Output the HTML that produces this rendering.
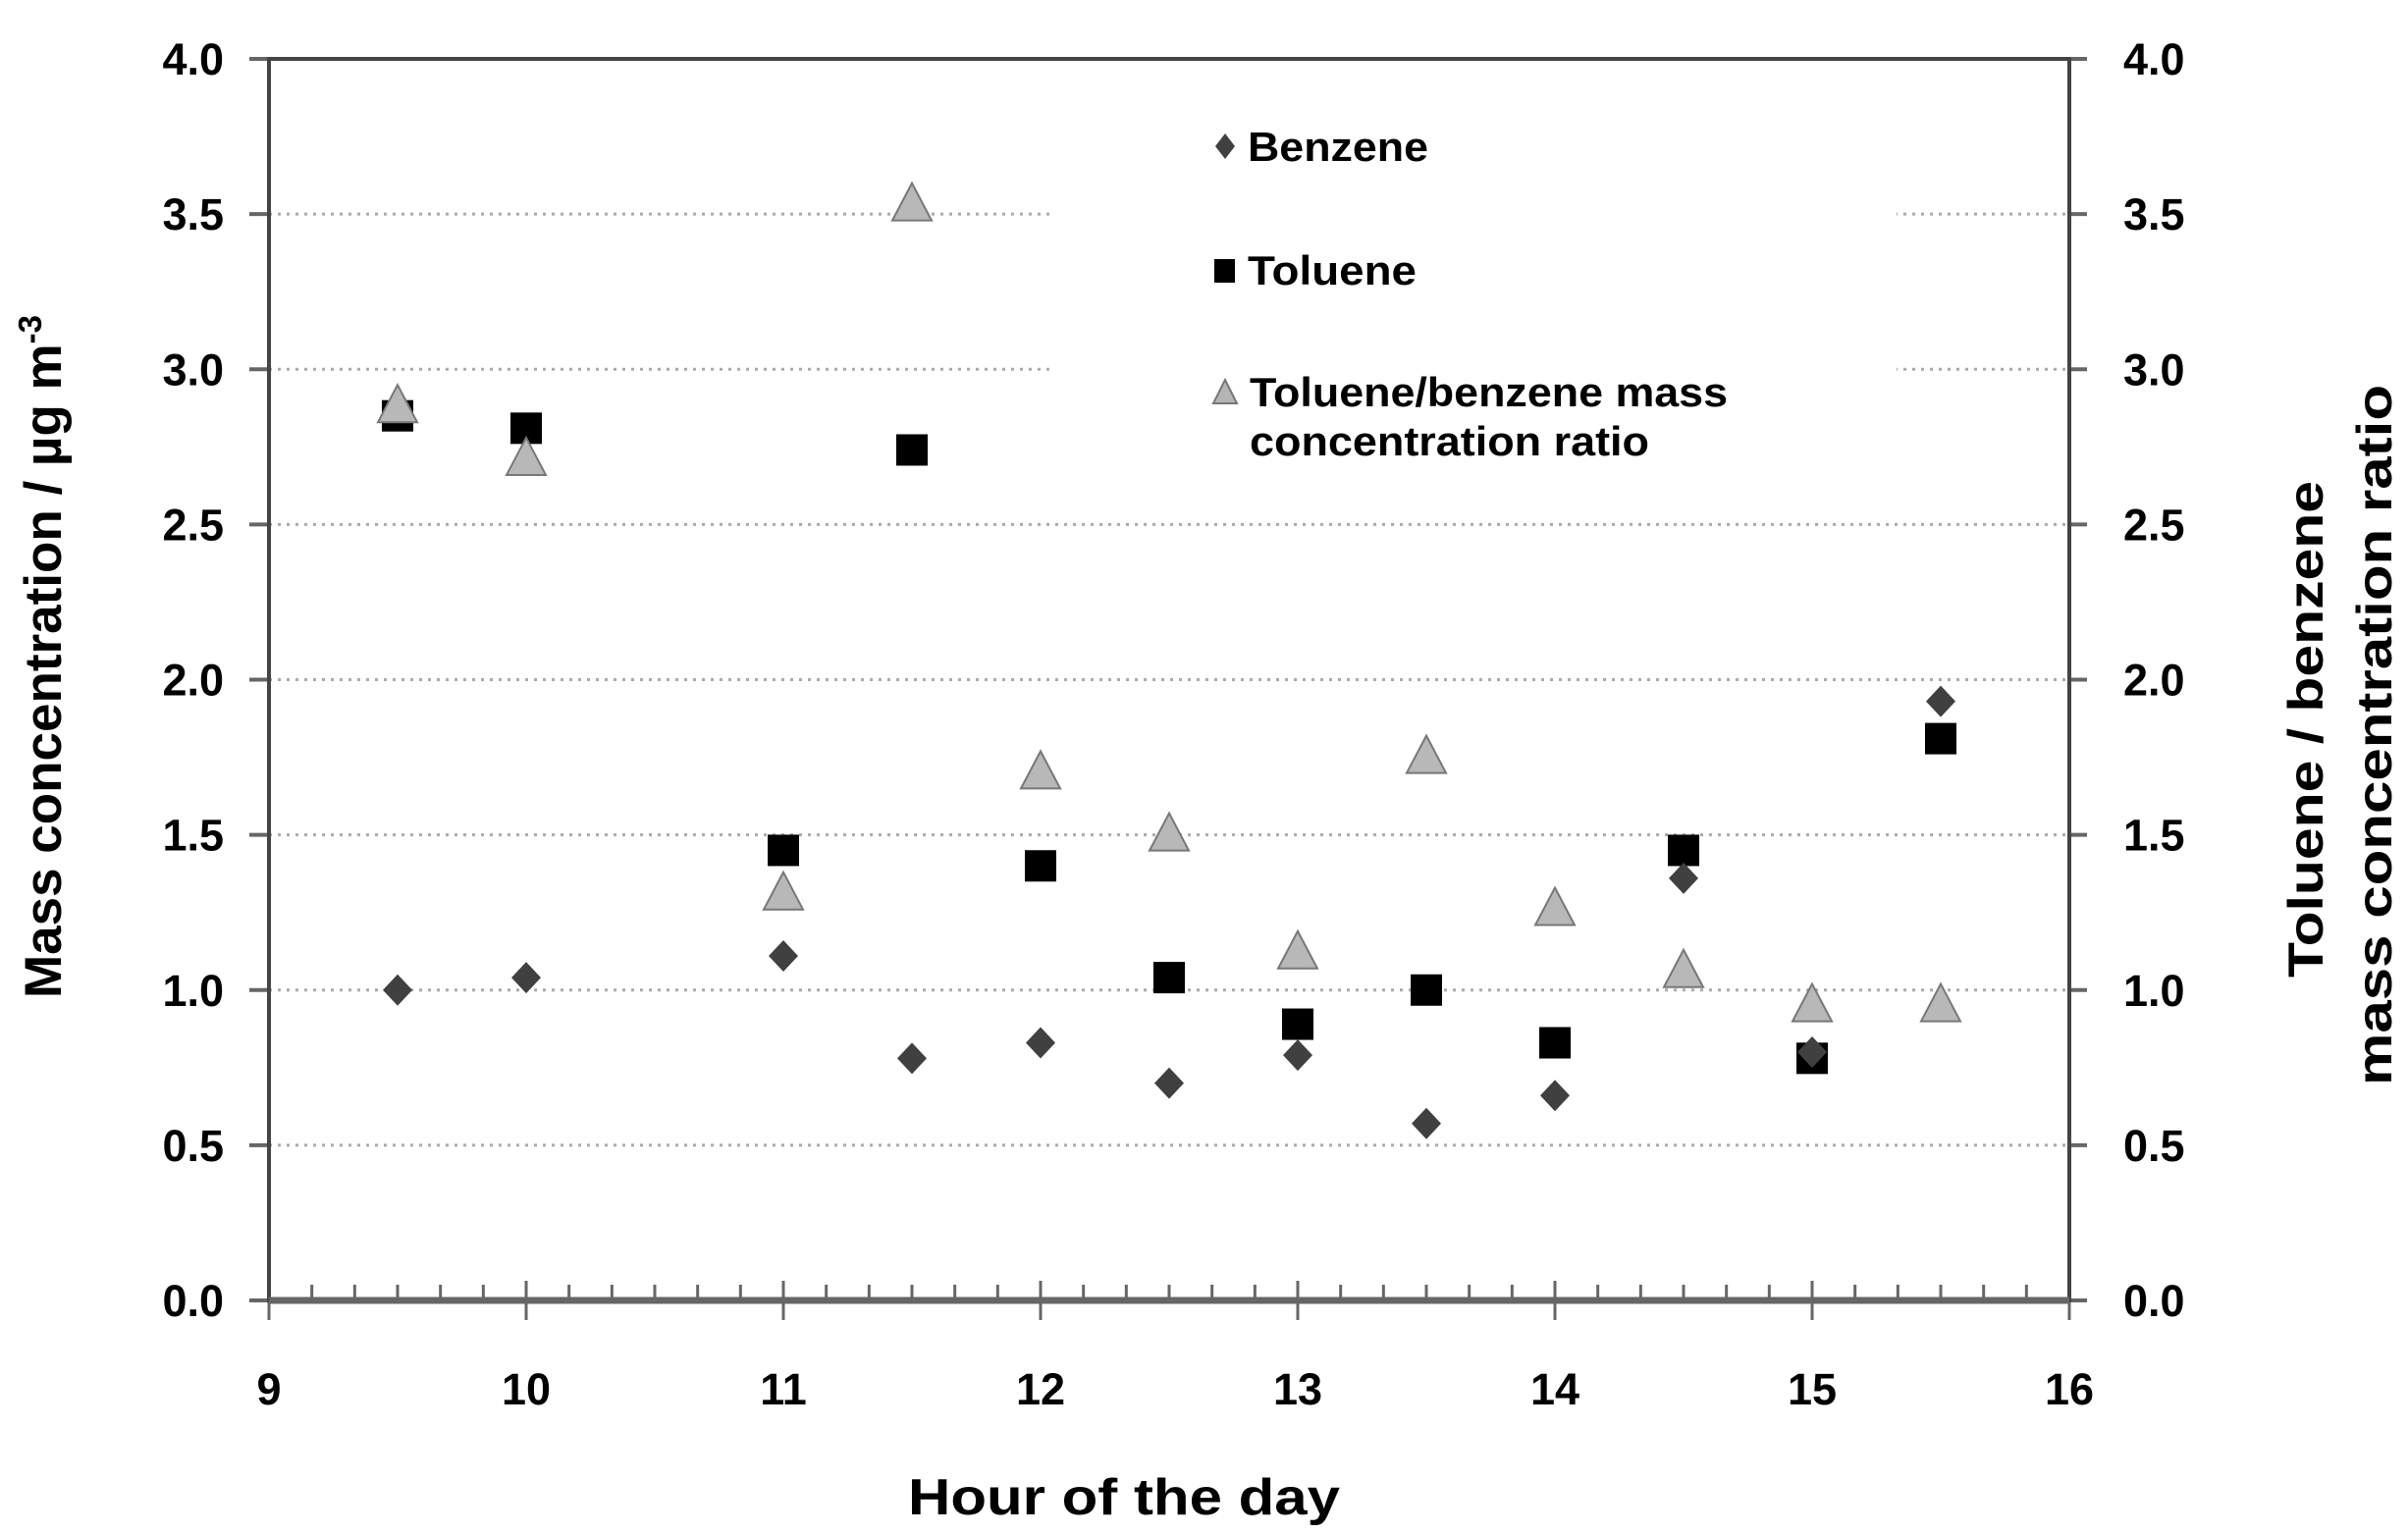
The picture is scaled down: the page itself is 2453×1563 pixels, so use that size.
<!DOCTYPE html>
<html><head><meta charset="utf-8"><style>
html,body{margin:0;padding:0;background:#fff;}
svg{display:block;}
text{font-family:"Liberation Sans",sans-serif;fill:#000;}
</style></head><body>
<svg id="chart" width="2453" height="1563" viewBox="0 0 2453 1563" xmlns="http://www.w3.org/2000/svg">
<g id="grid"></g>
<rect x="1072" y="95" width="860" height="380" fill="#fff"/>
<g id="axes"></g>
<g id="marks"></g>
<g font-weight="bold" font-size="42">
<polygon points="1248,136 1258,149 1248,162 1238,149" fill="#404040"/>
<text x="1271" y="164" textLength="184" lengthAdjust="spacingAndGlyphs">Benzene</text>
<rect x="1237" y="264" width="21" height="24" fill="#000"/>
<text x="1271" y="290" textLength="172" lengthAdjust="spacingAndGlyphs">Toluene</text>
<polygon points="1248,387 1260,411 1236,411" fill="#b5b5b5" stroke="#777" stroke-width="2"/>
<text x="1273" y="414" textLength="487" lengthAdjust="spacingAndGlyphs">Toluene/benzene mass</text>
<text x="1273" y="464" textLength="407" lengthAdjust="spacingAndGlyphs">concentration ratio</text>
</g>
<text x="1145" y="1543" font-size="52" font-weight="bold" text-anchor="middle" textLength="440" lengthAdjust="spacingAndGlyphs">Hour of the day</text>
<text transform="translate(62,669) rotate(-90)" font-size="53" font-weight="bold" text-anchor="middle">Mass concentration / µg m<tspan dy="-20" font-size="33">-3</tspan></text>
<text transform="translate(2366,743) rotate(-90)" font-size="50" font-weight="bold" text-anchor="middle" textLength="506" lengthAdjust="spacingAndGlyphs">Toluene / benzene</text>
<text transform="translate(2436,749) rotate(-90)" font-size="50" font-weight="bold" text-anchor="middle" textLength="714" lengthAdjust="spacingAndGlyphs">mass concentration ratio</text>
</svg>
<script>
const hours = [9.5,10,11,11.5,12,12.5,13,13.5,14,14.5,15,15.5];
const benzene = [1.0,1.04,1.11,0.78,0.83,0.70,0.79,0.57,0.66,1.36,0.80,1.93];
const toluene = [2.85,2.81,1.45,2.74,1.40,1.04,0.89,1.0,0.83,1.45,0.78,1.81];
const ratio = [2.88,2.71,1.31,3.53,1.70,1.50,1.12,1.75,1.26,1.06,0.95,0.95];
const yTicks = ["0.0","0.5","1.0","1.5","2.0","2.5","3.0","3.5","4.0"];
const xTicks = ["9","10","11","12","13","14","15","16"];

const X0=274, X1=2108, Y0=1325, Y1=60;
const xs = h => X0 + (h-9)/7*(X1-X0);
const ys = v => Y0 - v/4*(Y0-Y1);
const NS="http://www.w3.org/2000/svg";
function mk(tag, attrs, parent){const e=document.createElementNS(NS,tag);for(const k in attrs)e.setAttribute(k,attrs[k]);parent.appendChild(e);return e;}
const grid=document.getElementById('grid'), axes=document.getElementById('axes'), marks=document.getElementById('marks');

yTicks.forEach((t)=>{
  const v=parseFloat(t), y=ys(v);
  if(v>0 && v<4){
    const g=mk('line',{x1:X0,x2:X1,y1:y,y2:y,stroke:'#aaa','stroke-width':3,'stroke-dasharray':'3 6'},grid);
    
    
  }
  const tl=mk('line',{x1:X0-20,x2:X0,y1:y,y2:y,stroke:'#666','stroke-width':4},axes);
  
  
  const tr=mk('line',{x1:X1,x2:X1+18,y1:y,y2:y,stroke:'#666','stroke-width':4},axes);
  
  
  const a=mk('text',{x:228,y:y+16,'font-size':45,'font-weight':'bold','text-anchor':'end'},axes);a.textContent=t;
  
  
  const b=mk('text',{x:2163,y:y+16,'font-size':45,'font-weight':'bold'},axes);b.textContent=t;
  
  
});
for(let i=0;i<=42;i++){
  const x=xs(9+i/6), major=i%6===0;
  const t=mk('line',{x1:x,x2:x,y1:major?Y0-20:Y0-16,y2:major?Y0+20:Y0,stroke:'#666','stroke-width':3},axes);
  
  
}
xTicks.forEach(t=>{
  const e=mk('text',{x:xs(parseFloat(t)),y:1431,'font-size':45,'font-weight':'bold','text-anchor':'middle'},axes);e.textContent=t;
  
  
});
const fr=mk('rect',{x:X0,y:Y1,width:X1-X0,height:Y0-Y1,fill:'none',stroke:'#444','stroke-width':4},axes);


const bx=mk('line',{x1:X0,x2:X1,y1:Y0,y2:Y0,stroke:'#666','stroke-width':7},axes);



hours.forEach((h,i)=>{
  const x=xs(h);
  let y=ys(toluene[i]);
  const s=mk('rect',{x:x-16,y:y-16,width:32,height:32,fill:'#000'},marks);
  
  
  y=ys(ratio[i]);
  const t=mk('polygon',{points:`${x},${y-22} ${x+20},${y+16} ${x-20},${y+16}`,fill:'#b8b8b8',stroke:'#777','stroke-width':2},marks);
  
  
  y=ys(benzene[i]);
  const d=mk('polygon',{points:`${x},${y-16} ${x+15},${y} ${x},${y+16} ${x-15},${y}`,fill:'#404040'},marks);
  
  
});
</script>
</body></html>
